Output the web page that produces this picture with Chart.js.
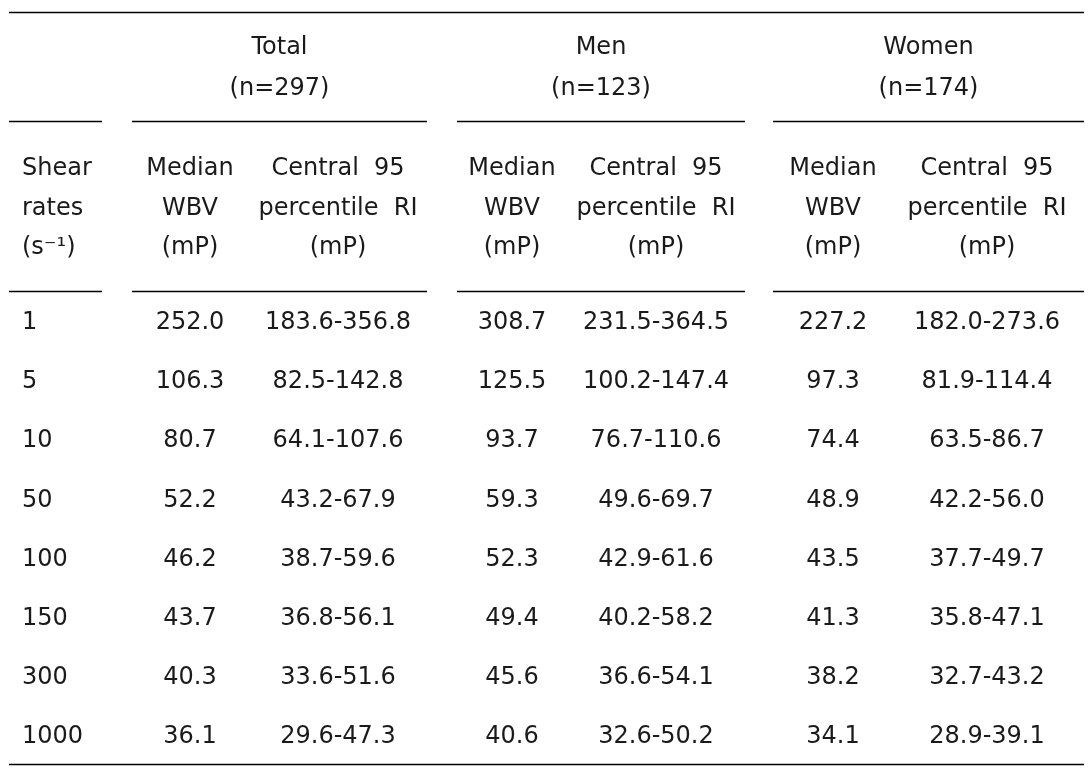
<!DOCTYPE html>
<html>
<head>
<meta charset="utf-8">
<title>Whole blood viscosity reference intervals</title>
<script src="https://cdn.jsdelivr.net/npm/chart.js@4.4.1/dist/chart.umd.min.js"></script>
<style>
  html, body { margin: 0; padding: 0; background: #fff; }
  #wrap { width: 1091px; height: 774px; }
</style>
</head>
<body>
<div id="wrap"><canvas id="table-chart"></canvas></div>
<script>
// table values
const shearRates = ['1', '5', '10', '50', '100', '150', '300', '1000'];
const groups = ['Total', 'Men', 'Women'];
const groupN = [297, 123, 174];

const totalMedian = [252.0, 106.3, 80.7, 52.2, 46.2, 43.7, 40.3, 36.1];
const totalLow = [183.6, 82.5, 64.1, 43.2, 38.7, 36.8, 33.6, 29.6];
const totalHigh = [356.8, 142.8, 107.6, 67.9, 59.6, 56.1, 51.6, 47.3];

const menMedian = [308.7, 125.5, 93.7, 59.3, 52.3, 49.4, 45.6, 40.6];
const menLow = [231.5, 100.2, 76.7, 49.6, 42.9, 40.2, 36.6, 32.6];
const menHigh = [364.5, 147.4, 110.6, 69.7, 61.6, 58.2, 54.1, 50.2];

const womenMedian = [227.2, 97.3, 74.4, 48.9, 43.5, 41.3, 38.2, 34.1];
const womenLow = [182.0, 81.9, 63.5, 42.2, 37.7, 35.8, 32.7, 28.9];
const womenHigh = [273.6, 114.4, 86.7, 56.0, 49.7, 47.1, 43.2, 39.1];

const firstHeader = ['Shear', 'rates', '(s\u207B\u00B9)'];
const medianHeader = ['Median', 'WBV', '(mP)'];
const intervalHeader = ['Central  95', 'percentile  RI', '(mP)'];

// layout (scale units = page pixels)
const colX = [22, 190, 338, 512, 656, 833, 987];
const groupSpan = [[132, 427], [457, 745], [773, 1084]];
const stubSpan = [9, 102];
const groupLineY = [46, 87];
const headLineY = [167, 207, 246];
const rowTop = 321;
const rowStep = 59.1;
const rules = { top: 12, group: 121, head: 291, bottom: 764 };
const textNudge = 2; // 'middle' baseline sits a bit high for digits

const fmt = v => v.toFixed(1);
const range = (lo, hi) => lo.map((v, i) => fmt(v) + '-' + fmt(hi[i]));

const columns = [
  { texts: shearRates, align: 'left' },
  { texts: totalMedian.map(fmt), align: 'center' },
  { texts: range(totalLow, totalHigh), align: 'center' },
  { texts: menMedian.map(fmt), align: 'center' },
  { texts: range(menLow, menHigh), align: 'center' },
  { texts: womenMedian.map(fmt), align: 'center' },
  { texts: range(womenLow, womenHigh), align: 'center' }
];

const FONT = '24px "DejaVu Sans", sans-serif';
const INK = '#1a1a1a';

const tableDraw = {
  id: 'tableDraw',
  afterDatasetsDraw(chart) {
    const { ctx, scales: { x, y } } = chart;
    ctx.save();
    ctx.font = FONT;
    ctx.fillStyle = INK;
    ctx.textBaseline = 'middle';

    // body cells from dataset elements
    chart.data.datasets.forEach((ds, d) => {
      const meta = chart.getDatasetMeta(d);
      ctx.textAlign = ds.align;
      meta.data.forEach((el, i) => ctx.fillText(ds.texts[i], el.x, el.y + textNudge));
    });

    // group headers
    ctx.textAlign = 'center';
    groups.forEach((g, i) => {
      const cx = x.getPixelForValue((groupSpan[i][0] + groupSpan[i][1]) / 2);
      ctx.fillText(g, cx, y.getPixelForValue(groupLineY[0]) + textNudge);
      ctx.fillText('(n=' + groupN[i] + ')', cx, y.getPixelForValue(groupLineY[1]) + textNudge);
    });

    // column headers
    headLineY.forEach((hy, k) => {
      const py = y.getPixelForValue(hy) + textNudge;
      ctx.textAlign = 'left';
      ctx.fillText(firstHeader[k], x.getPixelForValue(colX[0]), py);
      ctx.textAlign = 'center';
      for (let c = 1; c < colX.length; c++) {
        const txt = c % 2 === 1 ? medianHeader[k] : intervalHeader[k];
        ctx.fillText(txt, x.getPixelForValue(colX[c]), py);
      }
    });

    // rules
    ctx.strokeStyle = '#000';
    ctx.lineWidth = 1.5;
    const hline = (x0, x1, yy) => {
      const py = Math.round(y.getPixelForValue(yy)) + 0.5;
      ctx.beginPath();
      ctx.moveTo(x.getPixelForValue(x0), py);
      ctx.lineTo(x.getPixelForValue(x1), py);
      ctx.stroke();
    };
    hline(stubSpan[0], groupSpan[2][1], rules.top);
    [rules.group, rules.head].forEach(ry => {
      hline(stubSpan[0], stubSpan[1], ry);
      groupSpan.forEach(s => hline(s[0], s[1], ry));
    });
    hline(stubSpan[0], groupSpan[2][1], rules.bottom);
    ctx.restore();
  }
};

new Chart(document.getElementById('table-chart'), {
  type: 'scatter',
  data: {
    datasets: columns.map((col, c) => ({
      label: 'col' + c,
      texts: col.texts,
      align: col.align,
      data: col.texts.map((_, i) => ({ x: colX[c], y: rowTop + i * rowStep })),
      pointRadius: 0,
      pointHoverRadius: 0
    }))
  },
  options: {
    responsive: true,
    maintainAspectRatio: false,
    animation: false,
    events: [],
    layout: { padding: 0 },
    plugins: {
      legend: { display: false },
      tooltip: { enabled: false }
    },
    scales: {
      x: { type: 'linear', min: 0, max: 1091, display: false },
      y: { type: 'linear', min: 0, max: 774, reverse: true, display: false }
    }
  },
  plugins: [tableDraw]
});
</script>
</body>
</html>
